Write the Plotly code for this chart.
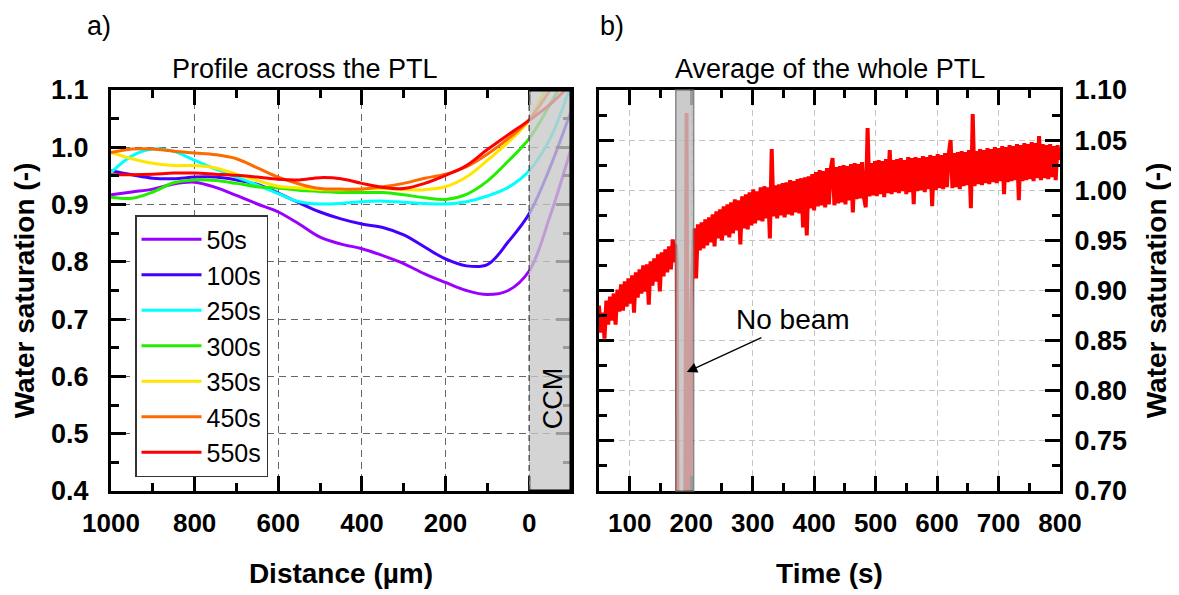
import plotly.graph_objects as go

# ---------------- data: panel a) profiles ----------------
distance = [1000, 950, 900, 850, 800, 750, 700, 650, 600, 550, 500, 450,
            400, 350, 300, 250, 200, 150, 100, 50, 0, -50, -100]
labels = ["50s", "100s", "250s", "300s", "350s", "450s", "550s"]
colors = ["#9900ff", "#4400ff", "#00ffff", "#22ee00", "#ffe600", "#ff6a00", "#ff0000"]

s50 = [0.917, 0.922, 0.927, 0.936, 0.939, 0.930, 0.916, 0.901, 0.887, 0.866, 0.843, 0.831,
       0.823, 0.811, 0.797, 0.779, 0.764, 0.750, 0.743, 0.750, 0.784, 0.880, 0.997]
s100 = [0.959, 0.952, 0.946, 0.945, 0.948, 0.948, 0.943, 0.935, 0.920, 0.903, 0.887, 0.875,
        0.866, 0.860, 0.847, 0.826, 0.805, 0.793, 0.795, 0.835, 0.884, 0.965, 1.063]
s250 = [0.956, 0.985, 0.997, 0.993, 0.977, 0.962, 0.948, 0.934, 0.919, 0.905, 0.901, 0.902,
        0.905, 0.906, 0.904, 0.902, 0.901, 0.905, 0.915, 0.930, 0.959, 1.015, 1.110]
s300 = [0.913, 0.911, 0.922, 0.938, 0.943, 0.942, 0.937, 0.931, 0.929, 0.925, 0.923, 0.921,
        0.921, 0.921, 0.917, 0.912, 0.909, 0.918, 0.941, 0.976, 1.015, 1.075, 1.140]
s350 = [0.991, 0.980, 0.972, 0.968, 0.968, 0.964, 0.953, 0.942, 0.932, 0.929, 0.926, 0.926,
        0.927, 0.928, 0.926, 0.926, 0.931, 0.948, 0.977, 1.009, 1.047, 1.120, 1.200]
s450 = [0.991, 0.997, 0.997, 0.993, 0.990, 0.987, 0.980, 0.964, 0.948, 0.936, 0.928, 0.927,
        0.927, 0.931, 0.937, 0.946, 0.953, 0.966, 0.988, 1.015, 1.048, 1.100, 1.160]
s550 = [0.952, 0.952, 0.953, 0.955, 0.955, 0.953, 0.951, 0.948, 0.944, 0.943, 0.947, 0.945,
        0.937, 0.930, 0.928, 0.937, 0.951, 0.968, 0.996, 1.022, 1.047, 1.075, 1.110]
profiles = [s50, s100, s250, s300, s350, s450, s550]

# ---------------- data: panel b) average over time ----------------
t_pre = list(range(50, 174, 3))
v_pre = [0.885, 0.858, 0.878, 0.852, 0.890, 0.866, 0.894, 0.870, 0.897, 0.866,
         0.901, 0.879, 0.906, 0.880, 0.909, 0.884, 0.912, 0.887, 0.915, 0.878,
         0.918, 0.893, 0.921, 0.897, 0.925, 0.899, 0.926, 0.886, 0.929, 0.905,
         0.932, 0.909, 0.936, 0.899, 0.938, 0.914, 0.941, 0.918, 0.944, 0.921,
         0.951, 0.928]
t_gap = [175, 176.5, 178, 190, 192.5, 194.5, 198.5, 200, 202, 204]
v_gap = [0.946, 0.930, 0.600, 0.600, 1.077, 0.600, 0.600, 0.875, 0.920, 0.955]
t_post = list(range(205, 800, 3))
v_post = [0.962, 0.912, 0.966, 0.940, 0.968, 0.942, 0.971, 0.945, 0.973, 0.948,
          0.976, 0.944, 0.979, 0.952, 0.981, 0.950, 0.984, 0.955, 0.986, 0.953,
          0.988, 0.957, 0.991, 0.960, 0.990, 0.946, 0.994, 0.962, 0.996, 0.961,
          0.998, 0.965, 1.001, 0.967, 0.999, 0.970, 1.003, 0.969, 1.004, 0.972,
          1.003, 0.952, 1.041, 0.974, 1.005, 0.972, 1.006, 0.975, 1.007, 0.973,
          1.008, 0.976, 1.010, 0.975, 1.009, 0.978, 1.011, 0.977, 1.012, 0.963,
          1.013, 0.955, 1.014, 0.982, 1.016, 0.980, 1.018, 0.984, 1.020, 0.985,
          1.019, 0.983, 1.022, 0.986, 1.021, 1.032, 0.985, 1.023, 0.987, 1.024,
          0.988, 1.025, 0.986, 1.024, 0.990, 1.026, 0.978, 1.027, 0.991, 1.026,
          0.992, 1.028, 0.993, 0.983, 1.062, 0.994, 1.027, 0.995, 1.029, 0.994,
          1.030, 0.996, 1.029, 0.993, 1.031, 0.997, 1.040, 0.996, 1.030, 0.998,
          1.031, 0.997, 1.032, 0.999, 1.030, 0.996, 1.033, 0.998, 1.032, 0.986,
          1.033, 0.999, 1.032, 1.000, 1.034, 0.998, 1.033, 1.001, 1.035, 0.984,
          1.034, 1.000, 1.036, 1.002, 1.035, 1.001, 1.037, 1.003, 1.036, 1.050,
          1.002, 1.037, 1.003, 1.038, 1.001, 1.039, 1.004, 1.038, 1.005, 1.040,
          0.982, 1.076, 1.004, 1.039, 1.006, 1.041, 1.005, 1.040, 1.007, 1.042,
          1.006, 1.041, 1.008, 1.043, 1.007, 1.042, 1.009, 1.044, 0.996, 1.043,
          1.008, 1.045, 1.009, 1.044, 1.010, 1.046, 0.990, 1.045, 1.009, 1.047,
          1.010, 1.046, 1.011, 1.048, 1.009, 1.047, 1.012, 1.054, 1.010, 1.046,
          1.012, 1.045, 1.011, 1.046, 1.013, 1.044, 1.010, 1.045, 1.030]
time_s = t_pre + t_gap + t_post
avg_sat = v_pre + v_gap + v_post

FONT = "Liberation Sans, Arial, sans-serif"

fig = go.Figure()
for lab, col, vals in zip(labels, colors, profiles):
    fig.add_trace(go.Scatter(x=distance, y=vals, mode="lines", name=lab,
                             line=dict(color=col, width=3, shape="spline", smoothing=1.0),
                             xaxis="x", yaxis="y"))
fig.add_trace(go.Scatter(x=time_s, y=avg_sat, mode="lines", showlegend=False,
                         line=dict(color="#ff0000", width=4), xaxis="x2", yaxis="y2"))

common = dict(showline=True, linecolor="black", linewidth=3, mirror="ticks",
              ticks="inside", ticklen=15, tickwidth=3, tickcolor="black",
              zeroline=False, showgrid=True, gridwidth=1.2, automargin=False)
tickf_x = dict(family=FONT, size=26, color="black", weight="bold")
tickf_y = dict(family=FONT, size=27, color="black", weight="bold")
titf = dict(family=FONT, size=28, color="black", weight="bold")

# the page body adds an 8 px offset, so the figure is 8 px smaller than the window
fig.update_layout(
    width=1171, height=587,
    margin=dict(l=103, r=119, t=82, b=104, autoexpand=False),
    paper_bgcolor="white", plot_bgcolor="white",
    font=dict(family=FONT, color="black"),
    xaxis=dict(domain=[0, 0.4847], range=[1000, -100], tickmode="linear", tick0=0, dtick=200,
               gridcolor="#666666", griddash="7px,5px", tickfont=tickf_x,
               ticklabelstandoff=7,
               minor=dict(dtick=100, tick0=0, ticks="inside", ticklen=8, tickwidth=3,
                          tickcolor="black", showgrid=False),
               title=dict(text="Distance (µm)", font=titf, standoff=27), **common),
    yaxis=dict(domain=[0, 1], range=[0.4, 1.1], tickmode="linear", tick0=0.4, dtick=0.1,
               tickformat=".1f", gridcolor="#666666", griddash="7px,5px", tickfont=tickf_y,
               ticklabelstandoff=14,
               minor=dict(dtick=0.05, tick0=0.4, ticks="inside", ticklen=8, tickwidth=3,
                          tickcolor="black", showgrid=False),
               title=dict(text="Water saturation (-)", font=titf, standoff=9), **common),
    xaxis2=dict(domain=[0.5142, 1], range=[50, 800], tickmode="linear", tick0=0, dtick=100,
                anchor="y2", gridcolor="#c4c4c4", griddash="6px,4px", tickfont=tickf_x,
                ticklabelstandoff=7,
                minor=dict(dtick=50, tick0=0, ticks="inside", ticklen=8, tickwidth=3,
                           tickcolor="black", showgrid=False),
                title=dict(text="Time (s)", font=titf, standoff=27), **common),
    yaxis2=dict(domain=[0, 1], range=[0.70, 1.10], tickmode="linear", tick0=0.7, dtick=0.05,
                tickformat=".2f", anchor="x2", side="right", gridcolor="#c4c4c4",
                griddash="6px,4px", tickfont=tickf_y, ticklabelstandoff=6,
                minor=dict(dtick=0.025, tick0=0.7, ticks="inside", ticklen=8, tickwidth=3,
                           tickcolor="black", showgrid=False),
                title=dict(text="Water saturation (-)", font=titf, standoff=21), **common),
    legend=dict(x=0.0253, y=0.688, xanchor="left", yanchor="top",
                bgcolor="white", bordercolor="#333333", borderwidth=1.5,
                font=dict(family=FONT, size=25, color="black"),
                itemwidth=60, tracegroupgap=0),
)

shapes = [
    # CCM band (panel a)
    dict(type="rect", xref="x", yref="y domain", x0=0, x1=-100, y0=0, y1=1,
         fillcolor="rgb(200,200,200)", opacity=0.78, line=dict(width=0), layer="above"),
    dict(type="line", xref="x", yref="y domain", x0=0, x1=0, y0=0, y1=1,
         line=dict(color="#444444", width=1.3, dash="6px,4px"), layer="above"),
    dict(type="line", xref="x", yref="y domain", x0=0, x1=-100, y0=1, y1=1,
         line=dict(color="black", width=3), layer="above"),
    dict(type="line", xref="x", yref="y domain", x0=0, x1=-100, y0=0, y1=0,
         line=dict(color="black", width=3), layer="above"),
    dict(type="line", xref="x", yref="y domain", x0=-100, x1=-100, y0=0, y1=1,
         line=dict(color="black", width=3), layer="above"),
    # no-beam band (panel b)
    dict(type="rect", xref="x2", yref="y2 domain", x0=175, x1=204, y0=0, y1=1,
         fillcolor="rgb(192,192,192)", opacity=0.82,
         line=dict(color="rgb(110,110,110)", width=1.5), layer="above"),
]
fig.update_layout(shapes=shapes)

annotations = [
    dict(text="a)", xref="paper", yref="paper", x=-0.0126, y=1.16, showarrow=False,
         xanchor="center", yanchor="middle", font=dict(family=FONT, size=27, color="black")),
    dict(text="b)", xref="paper", yref="paper", x=0.528, y=1.16, showarrow=False,
         xanchor="center", yanchor="middle", font=dict(family=FONT, size=27, color="black")),
    dict(text="Profile across the PTL", xref="paper", yref="paper", x=0.2044, y=1.052,
         xanchor="center", yanchor="middle", showarrow=False,
         font=dict(family=FONT, size=27, color="black")),
    dict(text="Average of the whole PTL", xref="paper", yref="paper", x=0.7576, y=1.052,
         xanchor="center", yanchor="middle", showarrow=False,
         font=dict(family=FONT, size=27, color="black")),
    dict(text="CCM", xref="x", yref="y", x=-57, y=0.562, textangle=-90, showarrow=False,
         xanchor="center", yanchor="middle", font=dict(family=FONT, size=27, color="black")),
    dict(text="No beam", xref="x2", yref="y2", x=365.6, y=0.8706, showarrow=False,
         xanchor="center", yanchor="middle", font=dict(family=FONT, size=28, color="black")),
    dict(text="", xref="x2", yref="y2", x=192.9, y=0.8187, ax=316.7, ay=0.8536,
         axref="x2", ayref="y2", showarrow=True, arrowhead=2, arrowsize=1.6,
         arrowwidth=1.3, arrowcolor="black"),
]
fig.update_layout(annotations=annotations)

fig.write_html("out.html")
